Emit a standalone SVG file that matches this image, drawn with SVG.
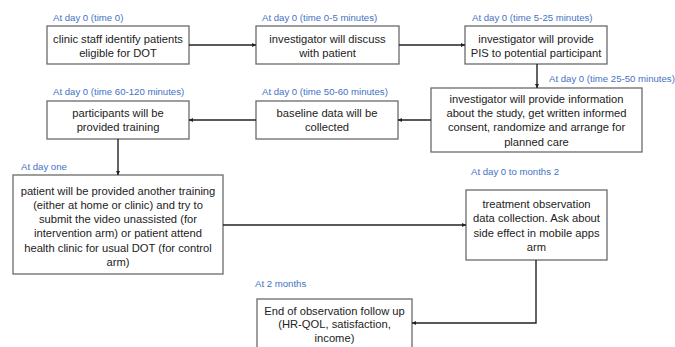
<svg xmlns="http://www.w3.org/2000/svg" width="675" height="347" viewBox="0 0 675 347">
<style>
.box{fill:#fff;stroke:#6a6a6a;stroke-width:1.3}
.t{font-family:"Liberation Sans",Arial,sans-serif;font-size:11.2px;fill:#222;text-anchor:middle}
.lbl{font-family:"Liberation Sans",Arial,sans-serif;font-size:9.6px;fill:#4472C4}
.c{fill:none;stroke:#222;stroke-width:1.4}
</style>
<defs>
<marker id="ah" viewBox="0 0 6 6" refX="6" refY="3" markerWidth="4" markerHeight="4" orient="auto" markerUnits="userSpaceOnUse">
<path d="M0,0 L6,3 L0,6 z" fill="#222"/>
</marker>
</defs>
<rect width="675" height="347" fill="#fff"/>
<g id="labels">
<text class="lbl" x="53" y="21">At day 0 (time 0)</text>
<text class="lbl" x="262" y="21">At day 0 (time 0-5 minutes)</text>
<text class="lbl" x="472" y="21">At day 0 (time 5-25 minutes)</text>
<text class="lbl" x="549" y="82">At day 0 (time 25-50 minutes)</text>
<text class="lbl" x="53" y="95">At day 0 (time 60-120 minutes)</text>
<text class="lbl" x="262" y="95">At day 0 (time 50-60 minutes)</text>
<text class="lbl" x="21" y="170">At day one</text>
<text class="lbl" x="471" y="175">At day 0 to months 2</text>
<text class="lbl" x="255" y="287">At 2 months</text>
</g>
<g id="n1"><rect class="box" x="47" y="26" width="142" height="38"/>
<text class="t" x="118" y="43">clinic staff identify patients</text>
<text class="t" x="118" y="57">eligible for DOT</text></g>
<g id="n2"><rect class="box" x="256" y="26" width="143" height="38"/>
<text class="t" x="327.5" y="43">investigator will discuss</text>
<text class="t" x="327.5" y="57">with patient</text></g>
<g id="n3"><rect class="box" x="465" y="26" width="142" height="38"/>
<text class="t" x="536" y="43">investigator will provide</text>
<text class="t" x="536" y="57">PIS to potential participant</text></g>
<g id="n4"><rect class="box" x="431" y="88" width="211" height="64"/>
<text class="t" x="536.5" y="103">investigator will provide information</text>
<text class="t" x="536.5" y="117">about the study, get written informed</text>
<text class="t" x="536.5" y="131">consent, randomize and arrange for</text>
<text class="t" x="536.5" y="146">planned care</text></g>
<g id="n5"><rect class="box" x="256" y="101" width="142" height="38"/>
<text class="t" x="327" y="117">baseline data will be</text>
<text class="t" x="327" y="131">collected</text></g>
<g id="n6"><rect class="box" x="47" y="101" width="142" height="38"/>
<text class="t" x="118" y="117">participants will be</text>
<text class="t" x="118" y="131">provided training</text></g>
<g id="n7"><rect class="box" x="13" y="175" width="210" height="99"/>
<text class="t" x="118" y="195">patient will be provided another training</text>
<text class="t" x="118" y="209">(either at home or clinic) and try to</text>
<text class="t" x="118" y="223">submit the video unassisted (for</text>
<text class="t" x="118" y="237">intervention arm) or patient attend</text>
<text class="t" x="118" y="252">health clinic for usual DOT (for control</text>
<text class="t" x="118" y="266">arm)</text></g>
<g id="n8"><rect class="box" x="466" y="190" width="141" height="70"/>
<text class="t" x="536.5" y="208">treatment observation</text>
<text class="t" x="536.5" y="222">data collection. Ask about</text>
<text class="t" x="536.5" y="237">side effect in mobile apps</text>
<text class="t" x="536.5" y="251">arm</text></g>
<g id="n9"><rect class="box" x="257" y="299" width="155" height="60"/>
<text class="t" x="334.5" y="315">End of observation follow up</text>
<text class="t" x="334.5" y="328">(HR-QOL, satisfaction,</text>
<text class="t" x="334.5" y="342">income)</text></g>
<g id="connectors">
<path class="c" d="M189,45 H256" marker-end="url(#ah)"/>
<path class="c" d="M399,45 H465" marker-end="url(#ah)"/>
<path class="c" d="M537,64 V88" marker-end="url(#ah)"/>
<path class="c" d="M431,120 H398" marker-end="url(#ah)"/>
<path class="c" d="M256,120 H189" marker-end="url(#ah)"/>
<path class="c" d="M118,139 V175" marker-end="url(#ah)"/>
<path class="c" d="M223,225 H466" marker-end="url(#ah)"/>
<path class="c" d="M536,260 V323 H412" marker-end="url(#ah)"/>
</g>
</svg>
